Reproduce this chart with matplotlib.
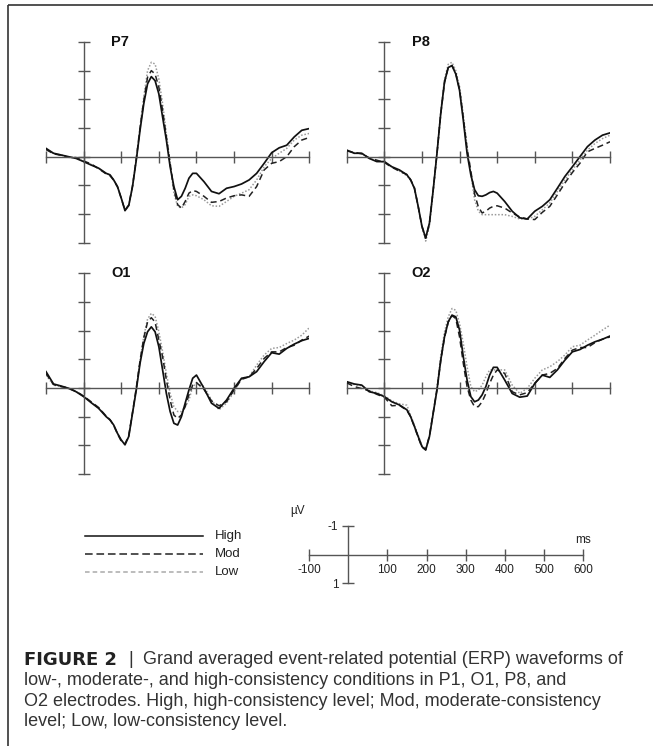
import numpy as np
import matplotlib
matplotlib.use("Agg")
import matplotlib.pyplot as plt

plt.rcParams['font.family'] = ['Liberation Sans', 'DejaVu Sans']

# time points (ms) shared by all waveforms
t = [-100, -80, -60, -40, -20, 0, 20, 40, 60, 70, 80, 90, 100, 110, 120, 130, 140, 150,
     160, 170, 180, 190, 200, 210, 220, 230, 240, 250, 260, 270, 280, 290, 300, 320, 340,
     360, 380, 400, 420, 440, 460, 480, 500, 520, 540, 560, 580, 600]

# amplitudes in microvolts (negative plotted up)
p7_high = [-0.29, -0.12, -0.06, 0.0, 0.06, 0.17, 0.29, 0.40, 0.58, 0.63, 0.81, 1.04, 1.44, 1.88, 1.70,
           1.04, 0.12, -0.92, -1.85, -2.54, -2.79, -2.65, -2.19, -1.38, -0.58, 0.35, 1.04, 1.50, 1.38,
           1.10, 0.75, 0.58, 0.58, 0.87, 1.21, 1.29, 1.10, 1.04, 0.95, 0.81, 0.58, 0.23, -0.14, -0.31,
           -0.40, -0.69, -0.92, -0.98]
p7_mod = [-0.25, -0.10, -0.05, 0.02, 0.03, 0.15, 0.25, 0.42, 0.60, 0.66, 0.82, 1.05, 1.45, 1.86, 1.68,
          1.02, 0.08, -1.00, -1.96, -2.77, -3.00, -2.88, -2.42, -1.61, -0.69, 0.23, 1.15, 1.67, 1.79,
          1.56, 1.27, 1.18, 1.21, 1.38, 1.59, 1.56, 1.44, 1.36, 1.33, 1.38, 1.04, 0.46, 0.23, 0.17,
          0.0, -0.35, -0.58, -0.67]
p7_low = [-0.27, -0.11, -0.06, 0.01, 0.05, 0.16, 0.27, 0.41, 0.59, 0.64, 0.82, 1.05, 1.45, 1.87, 1.70,
          1.05, 0.05, -1.05, -2.08, -3.00, -3.29, -3.23, -2.71, -1.85, -0.81, 0.23, 1.27, 1.73, 1.79,
          1.67, 1.38, 1.33, 1.36, 1.50, 1.71, 1.73, 1.56, 1.38, 1.27, 1.15, 0.81, 0.35, 0.06, -0.12,
          -0.29, -0.58, -0.75, -0.81]

p8_high = [-0.23, -0.12, -0.12, 0.06, 0.17, 0.17, 0.35, 0.46, 0.63, 0.81, 1.10, 1.73, 2.42, 2.83, 2.31,
           1.15, -0.12, -1.50, -2.60, -3.11, -3.17, -2.88, -2.31, -1.27, -0.12, 0.63, 1.15, 1.36, 1.38,
           1.33, 1.25, 1.21, 1.27, 1.56, 1.90, 2.13, 2.17, 1.90, 1.73, 1.50, 1.10, 0.69, 0.35, 0.0,
           -0.35, -0.58, -0.75, -0.83]
p8_mod = [-0.20, -0.15, -0.10, 0.04, 0.12, 0.20, 0.37, 0.50, 0.62, 0.80, 1.08, 1.72, 2.42, 2.84, 2.32,
          1.15, -0.10, -1.48, -2.58, -3.12, -3.18, -2.90, -2.35, -1.35, -0.30, 0.50, 1.30, 1.75, 1.96,
          1.90, 1.79, 1.73, 1.71, 1.79, 1.96, 2.10, 2.17, 2.19, 1.94, 1.73, 1.33, 0.92, 0.55, 0.23,
          -0.17, -0.29, -0.40, -0.52]
p8_low = [-0.22, -0.14, -0.11, 0.05, 0.15, 0.19, 0.36, 0.50, 0.66, 0.82, 1.10, 1.75, 2.45, 2.94, 2.40,
          1.20, -0.10, -1.55, -2.70, -3.22, -3.29, -3.00, -2.45, -1.45, -0.35, 0.60, 1.50, 1.90, 2.02,
          2.02, 2.02, 2.02, 2.02, 2.02, 2.08, 2.17, 2.17, 2.08, 1.85, 1.61, 1.21, 0.81, 0.46, 0.12,
          -0.23, -0.46, -0.63, -0.75]

o1_high = [-0.57, -0.14, -0.07, 0.01, 0.13, 0.30, 0.51, 0.71, 1.00, 1.11, 1.29, 1.58, 1.81, 1.98, 1.69,
           0.88, 0.07, -0.86, -1.55, -1.96, -2.13, -1.96, -1.44, -0.63, 0.19, 0.82, 1.23, 1.29, 1.00,
           0.53, 0.07, -0.34, -0.45, 0.01, 0.53, 0.71, 0.42, 0.01, -0.34, -0.39, -0.57, -0.92, -1.23,
           -1.18, -1.38, -1.53, -1.65, -1.73]
o1_mod = [-0.50, -0.12, -0.05, 0.0, 0.12, 0.28, 0.48, 0.68, 0.98, 1.10, 1.30, 1.60, 1.85, 1.95, 1.65,
          0.85, 0.0, -0.95, -1.75, -2.30, -2.45, -2.30, -1.67, -1.09, -0.28, 0.42, 0.94, 1.06, 0.94,
          0.65, 0.24, -0.10, -0.19, 0.05, 0.45, 0.62, 0.48, 0.07, -0.30, -0.39, -0.68, -1.03, -1.26,
          -1.26, -1.41, -1.49, -1.67, -1.81]
o1_low = [-0.45, -0.10, -0.05, 0.02, 0.12, 0.28, 0.50, 0.70, 0.98, 1.10, 1.30, 1.58, 1.82, 1.96, 1.68,
          0.88, 0.02, -0.95, -1.80, -2.40, -2.60, -2.50, -1.96, -1.27, -0.51, 0.19, 0.65, 0.82, 0.82,
          0.65, 0.42, -0.05, -0.16, -0.05, 0.42, 0.76, 0.53, 0.13, -0.34, -0.39, -0.80, -1.15, -1.38,
          -1.41, -1.55, -1.67, -1.84, -2.10]

o2_high = [-0.22, -0.14, -0.10, 0.13, 0.19, 0.30, 0.48, 0.59, 0.76, 1.00, 1.34, 1.69, 2.04, 2.16, 1.69,
           0.88, 0.07, -0.97, -1.78, -2.31, -2.54, -2.48, -2.02, -1.09, -0.28, 0.30, 0.48, 0.42, 0.24,
           -0.05, -0.45, -0.72, -0.72, -0.28, 0.19, 0.32, 0.28, -0.16, -0.45, -0.37, -0.63, -0.97, -1.26,
           -1.34, -1.49, -1.61, -1.70, -1.81]
o2_mod = [-0.18, -0.05, 0.02, 0.10, 0.22, 0.32, 0.62, 0.60, 0.78, 1.00, 1.35, 1.72, 2.06, 2.15, 1.66,
          0.85, 0.05, -0.95, -1.76, -2.30, -2.52, -2.42, -1.78, -0.86, -0.05, 0.42, 0.65, 0.65, 0.48,
          0.19, -0.16, -0.45, -0.63, -0.51, 0.13, 0.24, 0.16, -0.16, -0.45, -0.51, -0.68, -1.03, -1.32,
          -1.41, -1.41, -1.58, -1.70, -1.78]
o2_low = [-0.20, -0.12, -0.08, 0.10, 0.16, 0.27, 0.45, 0.55, 0.60, 0.95, 1.30, 1.65, 2.00, 2.12, 1.70,
          0.90, 0.0, -1.10, -1.95, -2.48, -2.77, -2.71, -2.25, -1.55, -0.74, -0.05, 0.13, 0.07, -0.10,
          -0.39, -0.63, -0.63, -0.63, -0.63, -0.10, 0.19, 0.01, -0.34, -0.63, -0.74, -0.92, -1.15, -1.44,
          -1.49, -1.67, -1.84, -2.02, -2.19]

electrodes = ['P7', 'P8', 'O1', 'O2']
waves = {'P7': (p7_high, p7_mod, p7_low), 'P8': (p8_high, p8_mod, p8_low),
         'O1': (o1_high, o1_mod, o1_low), 'O2': (o2_high, o2_mod, o2_low)}

conditions = ['High', 'Mod', 'Low']
scale_ticks = [-100, 100, 200, 300, 400, 500, 600]

caption = [
    "Grand averaged event-related potential (ERP) waveforms of",
    "low-, moderate-, and high-consistency conditions in P1, O1, P8, and",
    "O2 electrodes. High, high-consistency level; Mod, moderate-consistency",
    "level; Low, low-consistency level.",
]

W, H = 653, 746
fig = plt.figure(figsize=(W / 100, H / 100), dpi=100)

def px_axes(x0, x1, y_top, y_bot):
    return fig.add_axes([x0 / W, 1 - y_bot / H, (x1 - x0) / W, (y_bot - y_top) / H])

axis_col = '#555555'
unit = 28.7  # px per microvolt
styles = [dict(color='#111111', lw=1.25, ls='-'),
          dict(color='#222222', lw=1.1, ls=(0, (4, 2.5))),
          dict(color='#9a9a9a', lw=1.1, ls=(0, (1, 1.2)))]

# pixel placement of the four panels: x of -100 / 600 and y of zero line
panel_pos = {'P7': (46, 309.3, 156.7), 'P8': (346.7, 610, 156.7),
             'O1': (46, 309.3, 388), 'O2': (346.7, 610, 388)}

for name in electrodes:
    x0, x1, y0 = panel_pos[name]
    ax = px_axes(x0, x1, y0 - 4.3 * unit, y0 + 3.3 * unit)
    # draw low first so the solid line is on top
    for vals, st in list(zip(waves[name], styles))[::-1]:
        ax.plot(t, vals, **st)
    ax.set_xlim(-100, 600)
    ax.set_ylim(3.3, -4.3)
    for s in ['top', 'right']:
        ax.spines[s].set_visible(False)
    ax.spines['left'].set_position(('data', 0))
    ax.spines['bottom'].set_position(('data', 0))
    ax.spines['left'].set_bounds(-4, 3)
    ax.spines['bottom'].set_bounds(-100, 600)
    for s in ['left', 'bottom']:
        ax.spines[s].set_color(axis_col)
        ax.spines[s].set_linewidth(1.0)
    ax.set_xticks(range(-100, 700, 100))
    ax.set_yticks(range(-4, 4))
    ax.tick_params(direction='inout', length=8, width=1.0, color=axis_col,
                   labelleft=False, labelbottom=False)
    ax.patch.set_visible(False)
    fig.text((x0 + 65) / W, 1 - (y0 - 115) / H, name, fontsize=10.5, fontweight='bold',
             ha='left', va='center', color='#111111')

# legend
leg_y = [536, 554, 572]
leg_styles = [dict(color='#111111', lw=1.1, ls='-'),
              dict(color='#222222', lw=1.1, ls=(0, (5, 2.5))),
              dict(color='#aaaaaa', lw=1.1, ls=(0, (3, 2)))]
leg_ax = fig.add_axes([0, 0, 1, 1])
leg_ax.set_xlim(0, W)
leg_ax.set_ylim(H, 0)
leg_ax.axis('off')
for lab, y, st in zip(conditions, leg_y, leg_styles):
    leg_ax.plot([85, 203], [y, y], **st)
    leg_ax.text(215, y, lab, fontsize=9.5, va='center', ha='left', color='#222222')

# scale bar
sy0 = 554.5
sax = px_axes(309, 583.3, sy0 - 1.3 * unit, sy0 + 1.3 * unit)
sax.set_xlim(-100, 600)
sax.set_ylim(1.3, -1.3)
for s in ['top', 'right']:
    sax.spines[s].set_visible(False)
sax.spines['left'].set_position(('data', 0))
sax.spines['bottom'].set_position(('data', 0))
sax.spines['left'].set_bounds(-1, 1)
sax.spines['bottom'].set_bounds(-100, 600)
for s in ['left', 'bottom']:
    sax.spines[s].set_color(axis_col)
    sax.spines[s].set_linewidth(1.0)
sax.set_xticks(scale_ticks)
sax.set_xticklabels([str(v) for v in scale_ticks])
sax.set_yticks([-1, 1])
sax.set_yticklabels(['-1', '1'])
sax.tick_params(direction='inout', length=8, width=1.0, color=axis_col, labelsize=8.5,
                labelcolor='#222222', pad=3)
sax.patch.set_visible(False)
sax.text(-0.04, -1.5, 'µV', fontsize=8.5, ha='center', va='center', color='#222222',
         transform=sax.get_yaxis_transform())
sax.text(600, -0.5, 'ms', fontsize=8.5, ha='center', va='center', color='#222222')

# caption
cap_x = 24
cap_y = [660, 680.5, 701, 721.5]
cap_fs = 13
leg_ax.text(cap_x, cap_y[0], 'FIGURE 2', fontsize=cap_fs, fontweight='bold', va='center',
            ha='left', color='#222222', family='DejaVu Sans')
fig.canvas.draw()
r = fig.canvas.get_renderer()
bb = leg_ax.texts[-1].get_window_extent(r)
leg_ax.text(bb.x1 + 11, cap_y[0], '|', fontsize=cap_fs, va='center', ha='left', color='#333333')
leg_ax.text(bb.x1 + 26, cap_y[0], caption[0], fontsize=cap_fs, va='center', ha='left',
            color='#333333')
for line, y in zip(caption[1:], cap_y[1:]):
    leg_ax.text(cap_x, y, line, fontsize=cap_fs, va='center', ha='left', color='#333333')

# frame lines at left and top
leg_ax.plot([8, 8], [5, H], color='#333333', lw=1.2, solid_capstyle='butt')
leg_ax.plot([8, W], [5, 5], color='#333333', lw=1.2, solid_capstyle='butt')

fig.savefig('out.png', dpi=100, facecolor='white')
